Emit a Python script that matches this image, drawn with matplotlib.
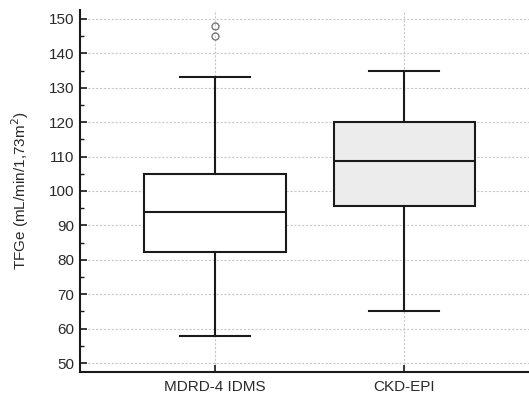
import matplotlib
matplotlib.use("Agg")
import matplotlib.pyplot as plt
from matplotlib.ticker import MultipleLocator

plt.rcParams['font.family'] = ['Liberation Sans', 'DejaVu Sans']

categories = ["MDRD-4 IDMS", "CKD-EPI"]
whislo = [58, 65]
q1 = [82.2, 95.5]
med = [93.8, 108.8]
q3 = [105, 120]
whishi = [133, 135]
fliers = [[145, 148], []]
fills = ["#ffffff", "#ececec"]

fig = plt.figure(figsize=(5.29, 3.95), dpi=100)
ax = fig.add_axes([80/529, 1-372/395, 1-80/529, (372-10)/395])

stats = []
for i in range(len(categories)):
    stats.append(dict(label=categories[i], whislo=whislo[i], q1=q1[i], med=med[i],
                      q3=q3[i], whishi=whishi[i], fliers=fliers[i]))

bp = ax.bxp(stats, positions=[1, 2], widths=0.746, patch_artist=True,
            showfliers=True, capwidths=0.37,
            boxprops=dict(linewidth=1.5, edgecolor='#1a1a1a'),
            medianprops=dict(linewidth=1.5, color='#1a1a1a'),
            whiskerprops=dict(linewidth=1.5, color='#1a1a1a'),
            capprops=dict(linewidth=1.5, color='#1a1a1a'),
            flierprops=dict(marker='o', markersize=5, markerfacecolor='none',
                            markeredgecolor='#777777', markeredgewidth=1.0))
for patch, c in zip(bp['boxes'], fills):
    patch.set_facecolor(c)

ax.set_xlim(0.286, 2.661)
ax.set_ylim(47.4, 152.6)
ax.yaxis.set_major_locator(MultipleLocator(10))
ax.yaxis.set_minor_locator(MultipleLocator(5))
ax.set_axisbelow(True)
ax.grid(True, which='major', linestyle=(0, (2, 1.5)), color='#c8c8c8', linewidth=0.8)

for s in ['top', 'right']:
    ax.spines[s].set_visible(False)
for s in ['left', 'bottom']:
    ax.spines[s].set_linewidth(1.5)
    ax.spines[s].set_color('#1a1a1a')

ax.tick_params(axis='y', which='major', direction='in', length=5, width=1.2,
               labelsize=11, pad=4, colors='#1a1a1a', labelcolor='#2a2a2a')
ax.tick_params(axis='y', which='minor', direction='in', length=3, width=1.0, colors='#1a1a1a')
ax.tick_params(axis='x', which='major', direction='in', length=5, width=1.2,
               labelsize=11, pad=6, colors='#1a1a1a', labelcolor='#2a2a2a')
ax.set_xticks([1, 2])
ax.set_xticklabels(categories)

ax.set_ylabel("TFGe (mL/min/1,73m$^2$)", fontsize=11, color='#2a2a2a', labelpad=13)

fig.savefig("out.png", dpi=100)
